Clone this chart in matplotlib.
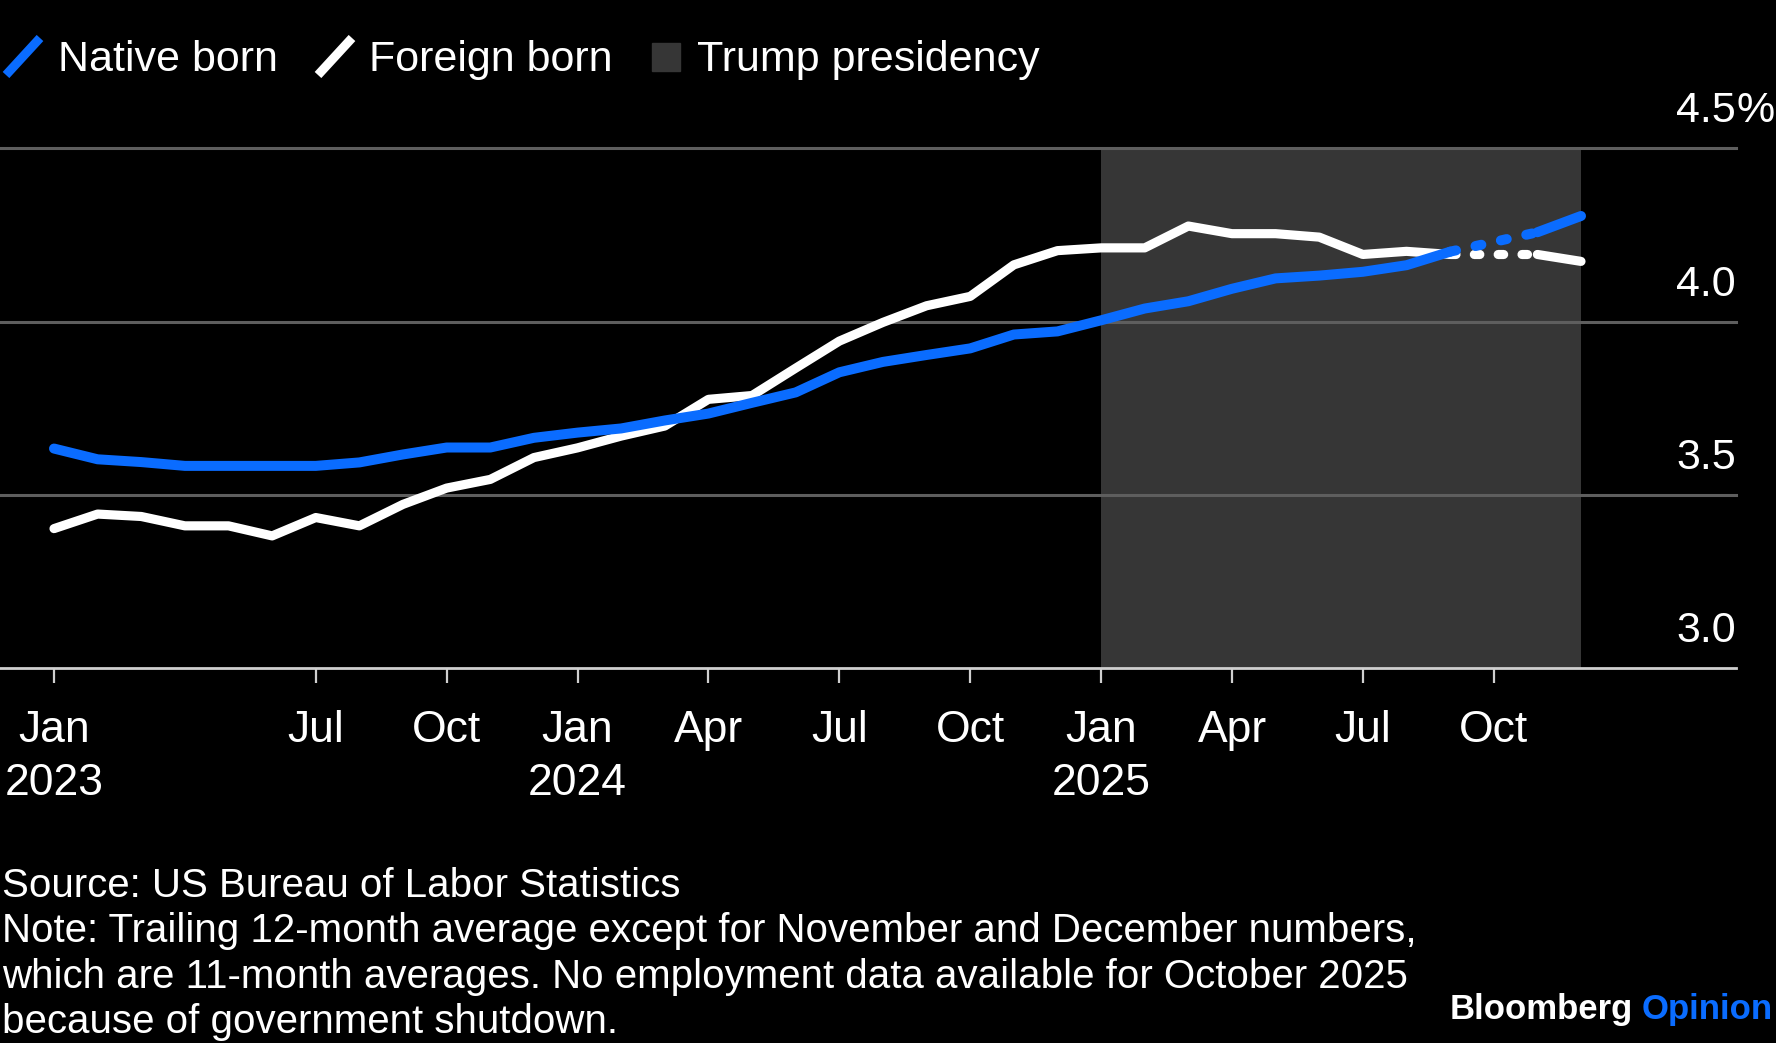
import numpy as np
import pandas as pd
import matplotlib
matplotlib.use("Agg")
import matplotlib.pyplot as plt
from matplotlib.lines import Line2D
from matplotlib.patches import Rectangle
import matplotlib.transforms as mtransforms

plt.rcParams['font.family'] = ['Liberation Sans', 'DejaVu Sans']

# ---------------- data ----------------
months = pd.period_range("2023-01", "2025-12", freq="M").strftime("%Y-%m").tolist()

native_born = [3.634, 3.603, 3.595, 3.584, 3.584, 3.584, 3.584, 3.594, 3.617, 3.637, 3.637, 3.665,
               3.680, 3.692, 3.715, 3.735, 3.766, 3.796, 3.854, 3.884, 3.904, 3.923, 3.963, 3.972,
               4.004, 4.038, 4.059, 4.095, 4.125, 4.133, 4.144, 4.163, 4.202, None, 4.258, 4.305]
foreign_born = [3.403, 3.445, 3.438, 3.411, 3.411, 3.382, 3.435, 3.411, 3.473, 3.520, 3.545, 3.608,
                3.636, 3.670, 3.699, 3.776, 3.787, 3.866, 3.944, 3.998, 4.046, 4.073, 4.164, 4.205,
                4.213, 4.213, 4.276, 4.254, 4.254, 4.244, 4.194, 4.203, 4.194, None, 4.194, 4.174]

tick_months = ["2023-01", "2023-07", "2023-10", "2024-01", "2024-04", "2024-07",
               "2024-10", "2025-01", "2025-04", "2025-07", "2025-10"]
tick_labels = ["Jan\n2023", "Jul", "Oct", "Jan\n2024", "Apr", "Jul",
               "Oct", "Jan\n2025", "Apr", "Jul", "Oct"]
y_ticks = [3.0, 3.5, 4.0, 4.5]
y_tick_labels = ["3.0", "3.5", "4.0", "4.5"]
presidency = ("2025-01", "2025-12")

series_names = ["Native born", "Foreign born"]
shade_name = "Trump presidency"
source_lines = ["Source: US Bureau of Labor Statistics",
                "Note: Trailing 12-month average except for November and December numbers,",
                "which are 11-month averages. No employment data available for October 2025",
                "because of government shutdown."]

# ---------------- style ----------------
BLUE = '#0a6cff'
WHITE = '#ffffff'
SHADE = '#363636'
GRID = '#5e5e5e'
AXIS = '#cfcfcf'

W, H = 1776, 1043
fig = plt.figure(figsize=(W / 100, H / 100), dpi=100, facecolor='black')

ax_top, ax_bot, ax_right = 148.4, 668.3, 1736
ax = fig.add_axes([0, (H - ax_bot) / H, ax_right / W, (ax_bot - ax_top) / H])
ax.set_facecolor('black')

x = np.arange(len(months))
pos = {m: i for i, m in enumerate(months)}
px_per_month = 43.63
ax.set_xlim(-54 / px_per_month, (len(months) - 1) + (ax_right - 1581) / px_per_month)
ax.set_ylim(y_ticks[0], y_ticks[-1])

# shading
ax.axvspan(pos[presidency[0]], pos[presidency[1]], color=SHADE, lw=0, zorder=0.5)

# gridlines
for yv in y_ticks[1:]:
    ax.axhline(yv, color=GRID, lw=2.2, zorder=1, clip_on=False)

def draw_series(vals, color, lw, z):
    arr = np.array([np.nan if v is None else v for v in vals], dtype=float)
    ax.plot(x, arr, color=color, lw=lw, solid_capstyle='round',
            solid_joinstyle='round', zorder=z)
    isn = np.isnan(arr)
    i = 0
    while i < len(arr):
        if isn[i]:
            j = i
            while j < len(arr) and isn[j]:
                j += 1
            if i > 0 and j < len(arr):
                ax.plot([x[i - 1], x[j]], [arr[i - 1], arr[j]], color=color, lw=lw,
                        ls=(0, (0.6, 2.0)), dash_capstyle='round', zorder=z)
            i = j
        else:
            i += 1

draw_series(foreign_born, WHITE, 6.6, 3)
draw_series(native_born, BLUE, 7.2, 4)

# axes styling
for s in ['top', 'right', 'left']:
    ax.spines[s].set_visible(False)
ax.spines['bottom'].set_color(AXIS)
ax.spines['bottom'].set_linewidth(2)
ax.spines['bottom'].set_zorder(5)

ax.set_xticks([pos[m] for m in tick_months])
ax.set_xticklabels(tick_labels, linespacing=1.38)
ax.tick_params(axis='x', direction='out', length=11, width=1.6, color=AXIS,
               labelcolor='white', labelsize=32, pad=19)
ax.set_yticks([])

# y tick labels above gridlines at the right
trans = mtransforms.blended_transform_factory(ax.transAxes, ax.transData)
off = mtransforms.offset_copy(trans, fig=fig, x=0, y=26, units='dots')
for yv, lab in zip(y_ticks, y_tick_labels):
    ax.text(1.0, yv, lab, transform=off, ha='right', va='baseline',
            color='white', fontsize=31, clip_on=False)
ax.text(1.0, y_ticks[-1], "%", transform=off, ha='left', va='baseline',
        color='white', fontsize=31, clip_on=False)

# ---------------- legend ----------------
def fx(px):
    return px / W

def fy(py):
    return 1 - py / H

fig.add_artist(Line2D([fx(6), fx(40)], [fy(75), fy(38)], color=BLUE, lw=6.5,
                      solid_capstyle='butt'))
fig.text(fx(58), fy(71), series_names[0], color='white', fontsize=31,
         ha='left', va='baseline')
fig.add_artist(Line2D([fx(318), fx(352)], [fy(75), fy(38)], color=WHITE, lw=6.5,
                      solid_capstyle='butt'))
fig.text(fx(369), fy(71), series_names[1], color='white', fontsize=31,
         ha='left', va='baseline')
fig.add_artist(Rectangle((fx(652), fy(71)), fx(28), 28 / H, color=SHADE,
                         transform=fig.transFigure))
fig.text(fx(697), fy(71), shade_name, color='white', fontsize=31,
         ha='left', va='baseline')

# ---------------- footer ----------------
for k, line in enumerate(source_lines):
    fig.text(fx(2), fy(897 + 45.3 * k), line, color='white', fontsize=29,
             ha='left', va='baseline')

t_op = fig.text(fx(1773), fy(1019), "Opinion", color=BLUE, fontsize=25,
                fontweight='bold', ha='right', va='baseline')
fig.canvas.draw()
bb = t_op.get_window_extent(renderer=fig.canvas.get_renderer())
fig.text((bb.x0 - 9) / W, fy(1019), "Bloomberg", color='white', fontsize=25,
         fontweight='bold', ha='right', va='baseline')

fig.savefig("out.png", dpi=100, facecolor='black')
